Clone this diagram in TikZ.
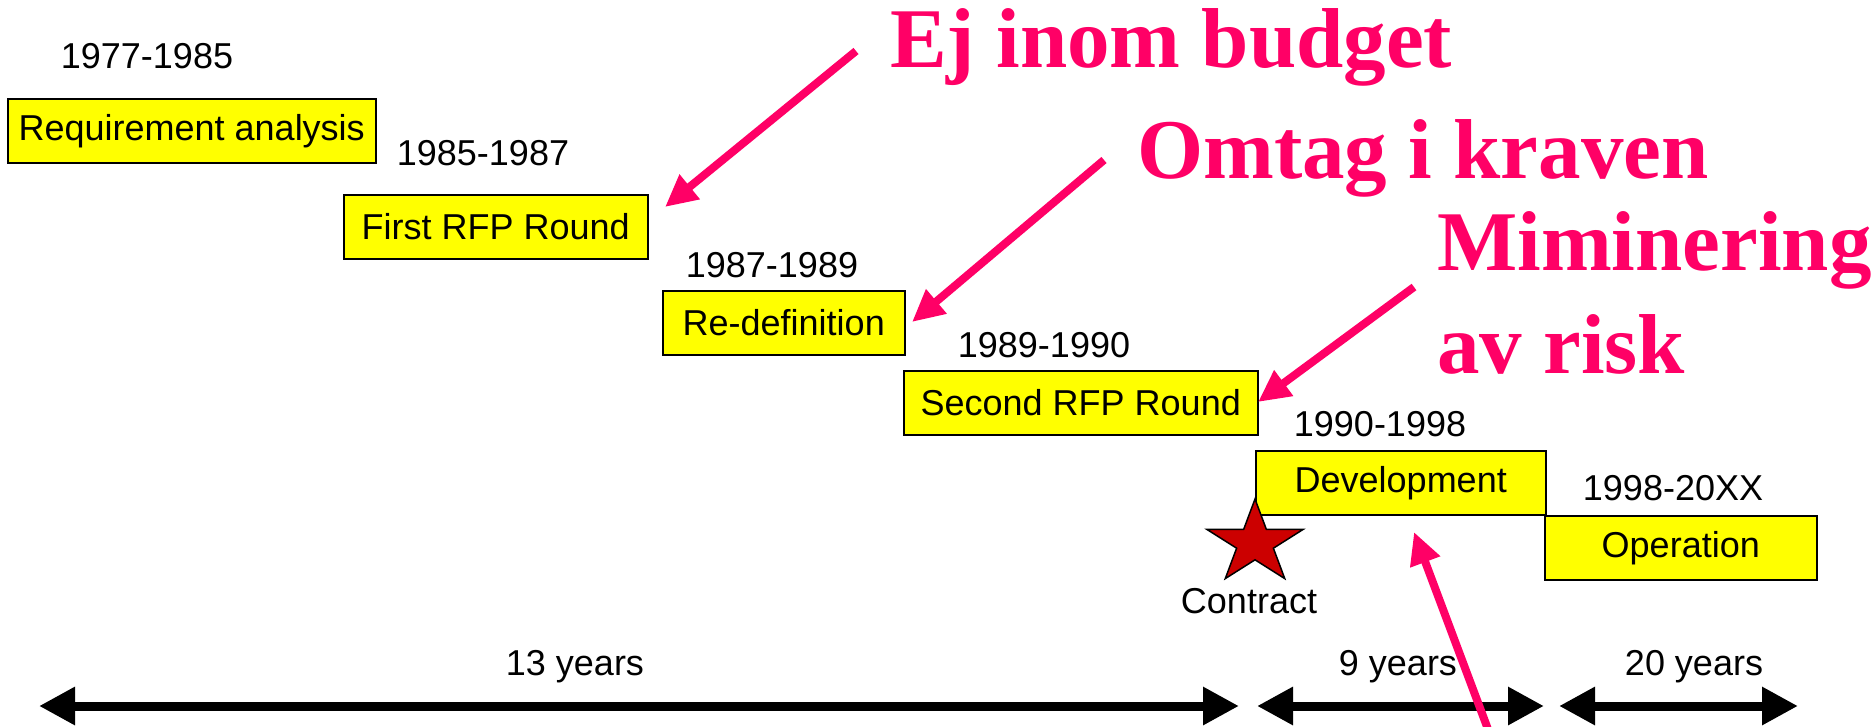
\documentclass[tikz,border=0pt]{standalone}
\usepackage{fontspec}
\setmainfont{Liberation Sans}
\newfontfamily\timesfont{Liberation Serif}
\usetikzlibrary{arrows.meta,positioning,shapes.geometric}
\definecolor{phase}{RGB}{255,255,0}
\definecolor{note}{RGB}{255,0,102}
\definecolor{contract}{RGB}{204,0,0}

\begin{document}
\begin{tikzpicture}[x=1pt, y=-1pt,
    phasebox/.style={draw, line width=1.5pt, fill=phase, anchor=north west, minimum height=64pt, inner sep=0pt, font=\fontsize{36}{43}\selectfont},
    year/.style={anchor=base, inner sep=0pt, font=\fontsize{36}{43}\selectfont},
    span/.style={{Triangle[length=36pt,width=36pt]}-{Triangle[length=36pt,width=36pt]}, line width=9pt},
    remark/.style={anchor=base west, inner sep=0pt, text=note, font=\timesfont\bfseries\fontsize{85}{102}\selectfont},
    hint/.style={-{Triangle[length=32pt,width=30pt]}, line width=8pt, draw=note},
  ]
  \useasboundingbox (0,0) rectangle (1873,726);

  % phases
  \node[phasebox, minimum width=368pt] (req) at (7,98) {Requirement analysis};
  \node[phasebox, minimum width=304pt] (rfp1) at (343,194) {First RFP Round};
  \node[phasebox, minimum width=242pt] (redef) at (662,290) {Re-definition};
  \node[phasebox, minimum width=354pt] (rfp2) at (903,370) {Second RFP Round};
  \node[phasebox, minimum width=290pt] (dev) at (1255,450) {Development};
  \node[phasebox, minimum width=272pt] (op) at (1544,515) {Operation};

  \node[year] (y1) at (147,68) {1977-1985};
  \node[year] (y2) at (483,165) {1985-1987};
  \node[year] (y3) at (772,277) {1987-1989};
  \node[year] (y4) at (1044,357) {1989-1990};
  \node[year] (y5) at (1380,436) {1990-1998};
  \node[year] (y6) at (1673,500) {1998-20XX};

  \node[star, star points=5, star point ratio=2.618, minimum size=88pt, inner sep=0pt,
        xscale=1.15, transform shape,
        draw, line width=1.5pt, fill=contract] (sign) at (1255,543) {};
  \node[year] (contr) at (1249,613) {Contract};

  % durations
  \coordinate (a0) at (39,706);
  \coordinate (a1) at (1239,706);
  \coordinate (b0) at (1257,706);
  \coordinate (b1) at (1544,706);
  \coordinate (c0) at (1559,706);
  \coordinate (c1) at (1798,706);
  \draw[span] (a0) -- (a1);
  \draw[span] (b0) -- (b1);
  \draw[span] (c0) -- (c1);
  \node[year] (d1) at (575,675) {13 years};
  \node[year] (d2) at (1398,675) {9 years};
  \node[year] (d3) at (1694,675) {20 years};

  % comments
  \node[remark] (budget) at (890,67) {Ej inom budget};
  \node[remark] (krav) at (1137,178) {Omtag i kraven};
  \node[remark] (risk1) at (1437,270) {Miminering};
  \node[remark] (risk2) at (1437,373) {av risk};

  \coordinate (h1) at (856,51);
  \coordinate (t1) at (665,207);
  \coordinate (h2) at (1104,160);
  \coordinate (t2) at (912,322);
  \coordinate (h3) at (1414,287);
  \coordinate (t3) at (1258,402);
  \coordinate (h4) at (1492,740);
  \coordinate (t4) at (1414,532);
  \draw[hint] (h1) -- (t1);
  \draw[hint] (h2) -- (t2);
  \draw[hint] (h3) -- (t3);
  \draw[hint] (h4) -- (t4);
\end{tikzpicture}
\end{document}
